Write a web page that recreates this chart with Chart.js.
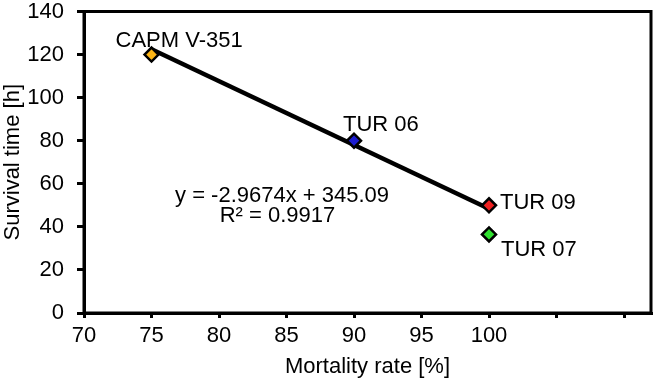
<!DOCTYPE html>
<html>
<head>
<meta charset="utf-8">
<script src="https://cdn.jsdelivr.net/npm/chart.js@4.4.1/dist/chart.umd.min.js"></script>
<style>
  html, body { margin: 0; padding: 0; background: #ffffff; }
  #wrap { width: 670px; height: 392px; }
  canvas { display: block; }
</style>
</head>
<body>
<div id="wrap"><canvas id="c" width="670" height="392"></canvas></div>
<script>
// ---- data ----
const strainNames   = ['CAPM V-351', 'TUR 06', 'TUR 09', 'TUR 07'];
const mortalityRate = [75, 90, 100, 100];
const survivalTime  = [120, 80, 50, 36.5];
const pointColors   = ['#FDB515', '#1C1CD0', '#EE2020', '#30E030'];
const trendX        = [75, 100];
const trendY        = [122.5, 48.4];
const equationLines = ['y = -2.9674x + 345.09', 'R\u00B2 = 0.9917'];
const xTickLabels   = [70, 75, 80, 85, 90, 95, 100];
const yTickLabels   = [0, 20, 40, 60, 80, 100, 120, 140];

// ---- layout / style (not data) ----
const FONT = "'Liberation Sans', Arial, sans-serif";
const labelOffsets = [
  { dx: -36, dy: -7.5 },
  { dx: -11, dy: -9.5 },
  { dx: 11,  dy: 3.5 },
  { dx: 12,  dy: 21.5 }
];
const equationAnchors = [
  { x: 84.67, y: 51.7 },
  { x: 84.33, y: 42.4 }
];

const framePlugin = {
  id: 'frame',
  beforeDatasetsDraw(chart) {
    const { ctx, chartArea: a } = chart;
    ctx.save();
    ctx.strokeStyle = '#000';
    ctx.lineWidth = 3;
    ctx.lineJoin = 'miter';
    ctx.strokeRect(a.left, a.top, a.right - a.left, a.bottom - a.top);
    ctx.restore();
  }
};

const textPlugin = {
  id: 'texts',
  afterDatasetsDraw(chart) {
    const { ctx } = chart;
    const meta = chart.getDatasetMeta(1);
    ctx.save();
    ctx.fillStyle = '#000';
    ctx.font = '22px ' + FONT;
    ctx.textBaseline = 'alphabetic';
    ctx.textAlign = 'left';
    meta.data.forEach((el, i) => {
      const o = labelOffsets[i];
      ctx.fillText(strainNames[i], el.x + o.dx, el.y + o.dy);
    });
    ctx.textAlign = 'center';
    const xs = chart.scales.x, ys = chart.scales.y;
    equationLines.forEach((t, i) => {
      const p = equationAnchors[i];
      ctx.fillText(t, xs.getPixelForValue(p.x), ys.getPixelForValue(p.y));
    });
    ctx.restore();
  }
};

new Chart(document.getElementById('c'), {
  type: 'scatter',
  data: {
    datasets: [
      {
        type: 'line',
        data: trendX.map((x, i) => ({ x: x, y: trendY[i] })),
        borderColor: '#000',
        borderWidth: 4.5,
        pointRadius: 0,
        fill: false,
        order: 2
      },
      {
        data: mortalityRate.map((x, i) => ({ x: x, y: survivalTime[i] })),
        pointStyle: 'rectRot',
        pointRadius: 7,
        pointBorderWidth: 2.5,
        pointBorderColor: '#000',
        backgroundColor: pointColors,
        pointBackgroundColor: pointColors,
        order: 1
      }
    ]
  },
  options: {
    responsive: false,
    animation: false,
    devicePixelRatio: 1,
    layout: { padding: { top: 11.5, right: 19, bottom: 0, left: 0 } },
    plugins: { legend: { display: false }, tooltip: { enabled: false } },
    scales: {
      x: {
        type: 'linear',
        min: 70,
        max: 112,
        afterFit(s) { s.height = 79; s.paddingLeft = 0; s.paddingRight = 0; },
        ticks: {
          stepSize: 5,
          includeBounds: false,
          autoSkip: false,
          maxRotation: 0,
          padding: 5,
          color: '#000',
          font: { family: FONT, size: 22 },
          callback: (v) => xTickLabels.includes(v) ? String(v) : ''
        },
        grid: {
          drawOnChartArea: false,
          drawTicks: true,
          tickLength: 5,
          lineWidth: 3,
          tickWidth: 3,
          color: '#000',
          tickColor: '#000'
        },
        border: { display: true, color: '#000', width: 3 },
        title: {
          display: true,
          text: 'Mortality rate [%]',
          color: '#000',
          font: { family: FONT, size: 22, lineHeight: 1.2 },
          padding: { top: 0, bottom: 12 }
        }
      },
      y: {
        type: 'linear',
        min: 0,
        max: 140,
        afterFit(s) { s.width = 84; s.paddingTop = 0; s.paddingBottom = 0; },
        ticks: {
          stepSize: 20,
          padding: 13,
          color: '#000',
          font: { family: FONT, size: 22, lineHeight: 1.0 },
          callback: (v) => yTickLabels.includes(v) ? String(v) : ''
        },
        grid: {
          drawOnChartArea: false,
          drawTicks: true,
          tickLength: 7,
          lineWidth: 3,
          tickWidth: 3,
          color: '#000',
          tickColor: '#000'
        },
        border: { display: true, color: '#000', width: 3 },
        title: {
          display: true,
          text: 'Survival time [h]',
          color: '#000',
          font: { family: FONT, size: 22, lineHeight: 1.2 },
          padding: { top: 0, bottom: 0 }
        }
      }
    }
  },
  plugins: [framePlugin, textPlugin]
});
</script>
</body>
</html>
